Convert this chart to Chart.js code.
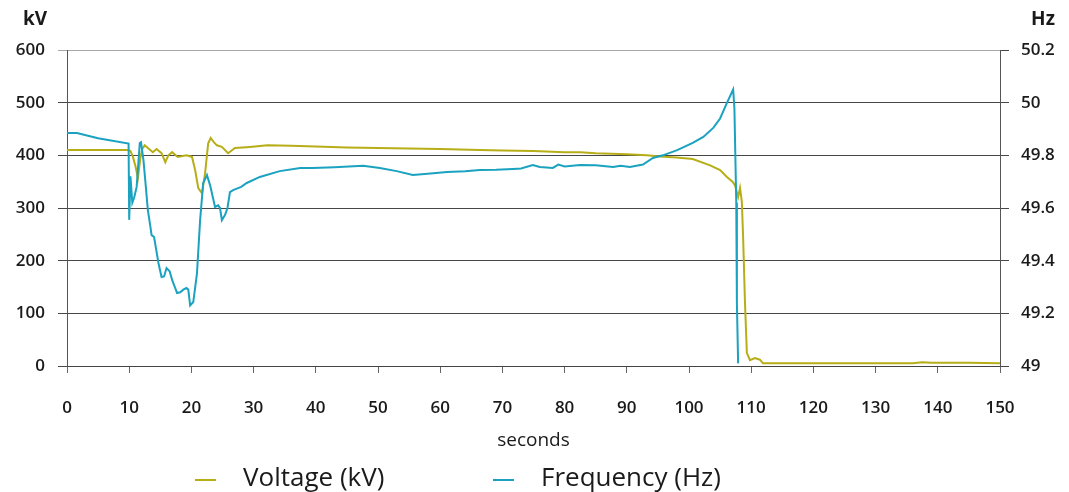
<!DOCTYPE html>
<html lang="en">
<head>
<meta charset="UTF-8">
<title>Voltage and frequency</title>
<script src="https://cdn.jsdelivr.net/npm/chart.js"></script>
<style>
    html, body { margin: 0; padding: 0; background: #fff; }
    canvas { display: block; }
</style>
</head>
<body>
<canvas id="chart" width="1069" height="492"></canvas>
<script>
// Voltage trace (seconds, kV)
const voltT = [0, 2, 5, 9.8, 10.2, 10.6, 11.0, 11.4, 11.8, 12.1, 12.5, 13.0, 13.8, 14.4, 15.2, 15.8, 16.3, 16.9, 17.8, 19.2, 20.1, 20.6, 21.1, 21.7, 22.2, 22.7, 23.1, 23.6, 24.1, 24.9, 25.9, 27.0, 29.4, 32.2, 36, 40, 45, 50, 55, 60, 66.4, 70, 75, 80, 82.5, 85, 90, 93.2, 95.3, 98, 100.6, 103.4, 105, 106.1, 107.0, 107.4, 107.9, 108.2, 108.5, 108.7, 109.0, 109.3, 109.8, 110.6, 111.4, 111.9, 115, 120, 130, 136, 137.5, 139, 145, 150];
const voltKV = [410, 410, 410, 410, 408, 397, 380, 357, 395, 412, 419, 414, 406, 412, 404, 387, 400, 406, 397, 400, 397, 372, 338, 328, 366, 423, 433, 425, 419, 416, 404, 414, 416, 419, 418, 417, 415, 414, 413, 412, 410, 409, 408, 406, 406, 404, 402, 400, 398, 396, 393, 381, 372, 359, 350, 343, 321, 338, 311, 245, 120, 25, 11, 15, 12, 5, 5, 5, 5, 5, 7, 6, 6, 5];

// Frequency trace (seconds, Hz)
const freqT = [0, 1.6, 5, 9.9, 10.0, 10.2, 10.5, 10.8, 11.2, 11.7, 11.9, 12.3, 12.6, 13.0, 13.4, 13.6, 14.0, 14.7, 15.2, 15.6, 16.0, 16.5, 16.9, 17.7, 18.2, 18.7, 19.2, 19.5, 19.8, 20.3, 20.9, 21.4, 21.9, 22.5, 23.0, 23.8, 24.3, 24.6, 24.9, 25.4, 25.8, 26.2, 26.7, 28.0, 28.9, 31.0, 34.2, 37.5, 39.5, 43, 47.6, 50.3, 53, 55.6, 58, 61.1, 64, 66.4, 69, 71.7, 73, 74.9, 76, 78.1, 79, 80, 82.5, 85, 87.8, 89, 90.5, 92.6, 94.2, 95.8, 98.1, 100.6, 102.3, 103.9, 105.0, 106.1, 107.1, 107.3, 107.6, 107.7, 107.9];
const freqHz = [49.885, 49.885, 49.865, 49.845, 49.555, 49.72, 49.62, 49.64, 49.68, 49.847, 49.85, 49.78, 49.70, 49.592, 49.53, 49.497, 49.49, 49.391, 49.338, 49.34, 49.372, 49.36, 49.327, 49.277, 49.28, 49.29, 49.296, 49.29, 49.23, 49.243, 49.353, 49.554, 49.695, 49.725, 49.687, 49.604, 49.61, 49.60, 49.554, 49.573, 49.60, 49.66, 49.668, 49.68, 49.695, 49.718, 49.74, 49.752, 49.752, 49.755, 49.76, 49.752, 49.74, 49.725, 49.73, 49.737, 49.74, 49.744, 49.745, 49.748, 49.75, 49.763, 49.756, 49.752, 49.765, 49.758, 49.763, 49.762, 49.756, 49.76, 49.756, 49.765, 49.79, 49.80, 49.82, 49.847, 49.87, 49.904, 49.94, 49.999, 50.05, 49.98, 49.62, 49.24, 49.01];

const VOLT_COLOR = '#b7ae17';
const FREQ_COLOR = '#1aa2c0';
const TEXT = '#1a1a1a';
const FONT = '"Open Sans", "DejaVu Sans", sans-serif';

const toPoints = (xs, ys) => xs.map((x, i) => ({ x: x, y: ys[i] }));

// unit labels above the axes and the line legend under the chart
const extras = {
    id: 'extras',
    afterDraw(chart) {
        const ctx = chart.ctx;
        ctx.save();
        ctx.fillStyle = TEXT;
        ctx.textBaseline = 'middle';
        ctx.textAlign = 'center';
        ctx.font = 'bold 19px ' + FONT;
        ctx.fillText('kV', 35, 20);
        ctx.fillText('Hz', 1043, 20);

        const legendX = [195, 493];
        ctx.textAlign = 'left';
        ctx.font = '26px ' + FONT;
        chart.data.datasets.forEach((ds, i) => {
            const x = legendX[i];
            ctx.strokeStyle = ds.borderColor;
            ctx.lineWidth = 2;
            ctx.beginPath();
            ctx.moveTo(x, 480);
            ctx.lineTo(x + 21, 480);
            ctx.stroke();
            ctx.fillText(ds.label, x + 48, 479);
        });
        ctx.restore();
    }
};

const tickFont = { family: FONT, size: 17, weight: '600' };

new Chart(document.getElementById('chart'), {
    type: 'line',
    data: {
        datasets: [
            {
                label: 'Voltage (kV)',
                data: toPoints(voltT, voltKV),
                yAxisID: 'y',
                borderColor: VOLT_COLOR,
                backgroundColor: VOLT_COLOR,
                borderWidth: 2,
                pointRadius: 0,
                tension: 0,
                order: 2
            },
            {
                label: 'Frequency (Hz)',
                data: toPoints(freqT, freqHz),
                yAxisID: 'y1',
                borderColor: FREQ_COLOR,
                backgroundColor: FREQ_COLOR,
                borderWidth: 2,
                pointRadius: 0,
                tension: 0,
                order: 1
            }
        ]
    },
    options: {
        responsive: false,
        animation: false,
        layout: { padding: { top: 50, bottom: 40, left: 0, right: 0 } },
        plugins: {
            legend: { display: false },
            tooltip: { enabled: false }
        },
        scales: {
            x: {
                type: 'linear',
                min: 0,
                max: 150,
                ticks: { stepSize: 10, padding: 25, color: TEXT, font: tickFont, maxRotation: 0 },
                grid: { drawOnChartArea: false, tickLength: 7, color: '#666' },
                border: { color: '#444' },
                title: {
                    display: true,
                    text: 'seconds',
                    color: TEXT,
                    font: { family: FONT, size: 19 },
                    padding: { top: 0, bottom: 0 }
                },
                afterFit: s => { s.height = 86; }
            },
            y: {
                position: 'left',
                min: 0,
                max: 600,
                ticks: { stepSize: 100, padding: 13, color: TEXT, font: tickFont },
                grid: {
                    color: c => (c.tick && c.tick.value === 600 ? '#a8a8a8' : '#474747'),
                    tickLength: 9
                },
                border: { color: '#555' },
                afterFit: s => { s.width = 67; }
            },
            y1: {
                position: 'right',
                min: 49,
                max: 50.2,
                ticks: {
                    stepSize: 0.2,
                    padding: 12,
                    color: TEXT,
                    font: tickFont,
                    callback: v => String(Number(v.toFixed(1)))
                },
                grid: { drawOnChartArea: false, tickLength: 9, color: '#474747' },
                border: { color: '#555' },
                afterFit: s => { s.width = 69; }
            }
        }
    },
    plugins: [extras]
});
</script>
</body>
</html>
